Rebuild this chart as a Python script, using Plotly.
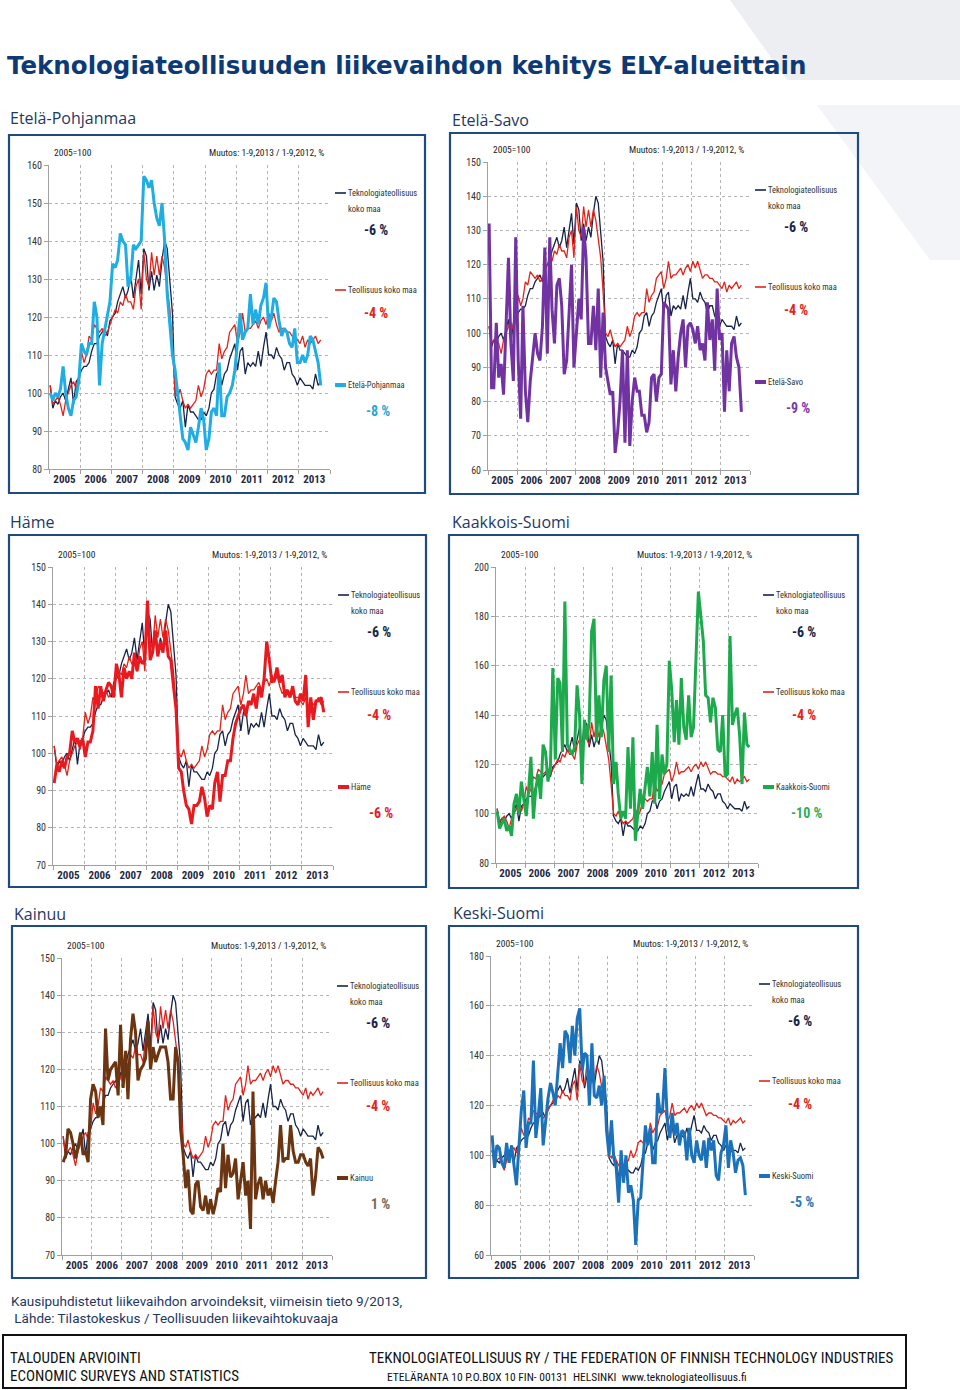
import plotly.graph_objects as go
import pandas as pd

W, H = 960, 1390

# ---------------- data (monthly, 1/2005 - 9/2013, 2005=100) ----------------
MONTHS = pd.date_range("2005-01-01", periods=105, freq="MS") + pd.Timedelta(days=14)
YEARS = [str(y) for y in range(2005, 2014)]

TEKNO = [102, 96, 98, 97, 99, 100, 98, 101, 104, 97, 103, 104,
         106, 107, 107, 108, 111, 113, 113, 115, 116, 117, 115, 119,
         120, 121, 124, 126, 128, 125, 127, 131, 125, 130, 135, 126,
         138, 136, 127, 132, 127, 131, 128, 135, 140, 138, 129, 121,
         99, 97, 96, 98, 91, 97, 95, 95, 94, 93, 93, 95,
         94, 96, 100, 101, 105, 106, 102, 105, 106, 109, 111, 113,
         106, 111, 112, 105, 108, 107, 108, 107, 111, 107, 112, 116,
         110, 110, 109, 112, 110, 109, 106, 108, 108, 105, 104, 102,
         104, 103, 102, 102, 102, 101, 105, 102, 103]

TEOLL = [102, 97, 98, 99, 97, 94, 98, 100, 102, 103, 101, 104,
         111, 108, 110, 115, 114, 118, 117, 116, 117, 115, 116, 118,
         120, 122, 121, 124, 123, 126, 124, 124, 122, 128, 130, 122,
         137, 130, 128, 137, 131, 136, 131, 136, 133, 127, 122, 112,
         100, 99, 101, 98, 96, 97, 96, 97, 98, 102, 99, 101,
         105, 106, 105, 106, 106, 113, 109, 111, 112, 116, 117, 118,
         113, 116, 121, 116, 117, 117, 118, 119, 117, 119, 120, 118,
         121, 119, 121, 118, 116, 117, 117, 116, 116, 115, 115, 114,
         113, 115, 112, 114, 113, 114, 115, 113, 114]

ETELA_POHJANMAA = [100, 98, 100, 99, 101, 107, 100, 96, 94, 98, 99, 103,
                   113, 111, 110, 113, 113, 124, 120, 102, 113, 117, 120, 124,
                   134, 133, 135, 142, 140, 139, 128, 130, 139, 138, 139, 140,
                   157, 156, 154, 156, 150, 146, 144, 150, 140, 126, 118, 110,
                   106, 100, 95, 88, 87, 85, 91, 89, 87, 91, 96, 93,
                   85, 88, 95, 96, 94, 108, 94, 94, 99, 100, 102, 106,
                   113, 121, 114, 116, 117, 126, 118, 122, 118, 123, 125, 129,
                   117, 120, 125, 124, 119, 115, 117, 116, 113, 112, 117, 108,
                   108, 110, 108, 110, 115, 114, 111, 108, 102]

ETELA_SAVO = [132, 84, 84, 103, 87, 91, 82, 100, 122, 97, 86, 128,
              92, 75, 108, 83, 74, 86, 92, 100, 94, 92, 102, 125,
              94, 128, 107, 97, 114, 116, 108, 88, 92, 104, 120, 90,
              100, 110, 104, 131, 122, 97, 97, 108, 95, 113, 87, 106,
              90, 86, 82, 83, 65, 71, 80, 95, 68, 95, 67, 80,
              87, 83, 83, 76, 76, 71, 74, 87, 88, 80, 87, 88,
              109, 108, 107, 85, 95, 83, 93, 100, 104, 90, 102, 103,
              101, 97, 102, 95, 97, 92, 109, 98, 104, 89, 113, 98,
              100, 77, 95, 83, 97, 99, 93, 90, 77]

HAME = [92, 97, 95, 98, 96, 99, 100, 106, 103, 104, 102, 104,
        99, 103, 103, 106, 118, 112, 118, 114, 117, 119, 118, 115,
        124, 121, 115, 123, 120, 122, 120, 127, 122, 126, 124, 125,
        141, 125, 127, 133, 126, 130, 127, 133, 126, 125, 118, 112,
        96, 95, 90, 86, 85, 81, 86, 86, 87, 91, 88, 83,
        86, 85, 92, 95, 87, 94, 94, 98, 98, 104, 108, 110,
        112, 113, 110, 114, 113, 116, 112, 118, 115, 120, 130, 125,
        119, 120, 123, 119, 121, 115, 117, 115, 118, 114, 113, 116,
        114, 121, 107, 115, 109, 114, 114, 115, 111]

KAAKKOIS_SUOMI = [101, 94, 96, 98, 93, 95, 91, 104, 108, 100, 113, 105,
                  99, 110, 123, 98, 110, 116, 106, 128, 125, 113, 119, 159,
                  122, 155, 153, 125, 186, 128, 126, 124, 127, 152, 140, 112,
                  138, 130, 137, 174, 179, 129, 148, 131, 154, 160, 125, 156,
                  112, 121, 108, 98, 101, 98, 127, 102, 131, 89, 100, 110,
                  102, 110, 119, 107, 125, 104, 136, 106, 124, 116, 120, 162,
                  150, 129, 146, 128, 155, 135, 130, 148, 131, 135, 160, 190,
                  180, 170, 148, 147, 137, 147, 143, 126, 125, 140, 115, 116,
                  172, 136, 140, 143, 132, 112, 141, 128, 127]

KAINUU = [95, 97, 104, 103, 100, 96, 99, 103, 97, 98, 95, 112,
          116, 114, 107, 110, 105, 131, 117, 120, 121, 122, 113, 132,
          115, 125, 112, 128, 135, 130, 117, 120, 121, 123, 133, 120,
          126, 122, 124, 126, 126, 126, 122, 112, 112, 126, 122, 104,
          97, 88, 93, 82, 81, 89, 90, 83, 82, 86, 81, 85,
          81, 84, 88, 87, 100, 88, 97, 91, 92, 96, 85, 90,
          95, 86, 90, 77, 114, 85, 89, 91, 85, 90, 86, 88,
          84, 90, 95, 105, 95, 96, 96, 105, 98, 95, 95, 97,
          97, 95, 94, 96, 86, 91, 99, 98, 96]

KESKI_SUOMI = [108, 95, 104, 103, 97, 95, 105, 97, 104, 95, 88, 103,
               118, 126, 103, 113, 113, 138, 107, 116, 127, 104, 115, 123,
               129, 125, 120, 135, 145, 135, 150, 148, 137, 152, 140, 155,
               159, 134, 141, 140, 120, 145, 124, 123, 128, 120, 132, 110,
               100, 114, 99, 95, 81, 102, 89, 100, 85, 88, 82, 64,
               82, 83, 96, 112, 104, 111, 97, 97, 125, 117, 118, 135,
               113, 107, 117, 108, 113, 104, 110, 109, 98, 111, 100, 97,
               106, 100, 98, 106, 95, 107, 102, 106, 92, 90, 101, 104,
               112, 95, 106, 101, 93, 98, 99, 96, 84]

REGIONS = ["Etelä-Pohjanmaa", "Etelä-Savo", "Häme", "Kaakkois-Suomi", "Kainuu", "Keski-Suomi"]
REGION_DATA = [ETELA_POHJANMAA, ETELA_SAVO, HAME, KAAKKOIS_SUOMI, KAINUU, KESKI_SUOMI]
REGION_CHANGE = ["-8 %", "-9 %", "-6 %", "-10 %", "1 %", "-5 %"]
TEKNO_CHANGE = "-6 %"
TEOLL_CHANGE = "-4 %"
SERIES_NAMES = ["Teknologiateollisuus", "koko maa", "Teollisuus koko maa"]

# ---------------- styles / layout ----------------
NAVY = "#17244A"
RED = "#E2231A"
REGION_COLORS = ["#1FADE4", "#7132A2", "#E8191F", "#1DAA4D", "#6B3512", "#1C72BA"]
PCT_COLORS = ["#2AA7D8", "#7A3BA6", "#E8191F", "#2BAE58", "#7A6A5C", "#2A78BC"]
FRAME = "#1E4C7E"
NARROW = "Liberation Sans Narrow, Arial Narrow, Roboto Condensed, DejaVu Sans Condensed, sans-serif"
TXT = "#1F3864"

# frame (x0,y0,x1,y1), plot area (left, top, right, bottom), title pos, y-range, dtick
PANELS = [
    dict(frame=(9, 135, 425, 493), plot=(49, 165, 330, 469), title=(8, 118), yr=(80, 160), dt=10),
    dict(frame=(450, 133, 858, 494), plot=(488, 162, 750, 470), title=(450, 120), yr=(60, 150), dt=10),
    dict(frame=(9, 535, 426, 887), plot=(53, 567, 333, 865), title=(8, 522), yr=(70, 150), dt=10),
    dict(frame=(449, 535, 858, 888), plot=(496, 567, 758, 863), title=(450, 522), yr=(80, 200), dt=20),
    dict(frame=(12, 926, 426, 1278), plot=(62, 958, 332, 1255), title=(12, 914), yr=(70, 150), dt=10),
    dict(frame=(449, 926, 858, 1278), plot=(491, 956, 754, 1255), title=(451, 913), yr=(60, 180), dt=20),
]


def px(x):
    return x / W


def py(y):
    return 1 - y / H


fig = go.Figure()
annotations = []
shapes = []


def ann(x, y, text, size, color, xanchor="left", family=NARROW, weight="normal"):
    annotations.append(dict(x=px(x), y=py(y), xref="paper", yref="paper", text=text,
                            showarrow=False, xanchor=xanchor, yanchor="middle",
                            font=dict(family=family, size=size, color=color, weight=weight)))


def hline(x0, x1, y, color, width):
    shapes.append(dict(type="line", xref="paper", yref="paper", x0=px(x0), x1=px(x1),
                       y0=py(y), y1=py(y), line=dict(color=color, width=width)))


# background decoration
shapes.append(dict(type="path", xref="paper", yref="paper", layer="below",
                   path=f"M {px(730)},{py(0)} L {px(960)},{py(0)} L {px(960)},{py(80)} L {px(787)},{py(80)} Z",
                   fillcolor="#EDEEF2", line=dict(width=0)))
shapes.append(dict(type="path", xref="paper", yref="paper", layer="below",
                   path=f"M {px(817)},{py(105)} L {px(960)},{py(105)} L {px(960)},{py(260)} L {px(930)},{py(260)} Z",
                   fillcolor="#F3F4F7", line=dict(width=0)))

for k, (p, name, data, col) in enumerate(zip(PANELS, REGIONS, REGION_DATA, REGION_COLORS), start=1):
    l, t, r, b = p["plot"]
    xs = "x" if k == 1 else f"x{k}"
    ys = "y" if k == 1 else f"y{k}"
    fig.add_trace(go.Scatter(x=MONTHS, y=TEKNO, mode="lines", line=dict(color=NAVY, width=1.3),
                             xaxis=xs, yaxis=ys, showlegend=False, hoverinfo="skip"))
    fig.add_trace(go.Scatter(x=MONTHS, y=TEOLL, mode="lines", line=dict(color=RED, width=1.3),
                             xaxis=xs, yaxis=ys, showlegend=False, hoverinfo="skip"))
    fig.add_trace(go.Scatter(x=MONTHS, y=data, mode="lines", line=dict(color=col, width=3),
                             xaxis=xs, yaxis=ys, showlegend=False, hoverinfo="skip"))

    kx = "xaxis" if k == 1 else f"xaxis{k}"
    ky = "yaxis" if k == 1 else f"yaxis{k}"
    fig.update_layout(**{
        kx: dict(domain=[px(l), px(r)], anchor=ys, type="date",
                 range=["2005-01-01", "2014-01-01"], automargin=False,
                 tickmode="array", tickvals=[f"{y}-07-01" for y in YEARS], ticktext=YEARS,
                 ticks="", showgrid=False, zeroline=False,
                 showline=True, linecolor="#A0A0A0", linewidth=1,
                 tickfont=dict(family=NARROW, size=11, color="#1F2A44", weight="bold"),
                 minor=dict(tick0="2005-01-01", dtick="M12", showgrid=True, gridcolor="#B5B5B5",
                            griddash="dot", gridwidth=1, ticks="outside", ticklen=4,
                            tickcolor="#A0A0A0"),
                 fixedrange=True),
        ky: dict(domain=[py(b), py(t)], anchor=xs, range=list(p["yr"]), tick0=p["yr"][0],
                 dtick=p["dt"], showgrid=True, gridcolor="#B5B5B5", griddash="dot", gridwidth=1,
                 zeroline=False, showline=True, linecolor="#A0A0A0", linewidth=1, automargin=False,
                 ticks="outside", ticklen=4, tickcolor="#A0A0A0",
                 tickfont=dict(family=NARROW, size=10, color="#333333"), fixedrange=True),
    })

    # frame and title
    fx0, fy0, fx1, fy1 = p["frame"]
    shapes.append(dict(type="rect", xref="paper", yref="paper", x0=px(fx0), x1=px(fx1),
                       y0=py(fy0), y1=py(fy1), line=dict(color=FRAME, width=2.2)))
    ann(p["title"][0], p["title"][1], name, 16, TXT, family="Open Sans, Noto Sans, sans-serif")

    # header texts
    ann(l + 3, t - 13, "2005=100", 9.5, "#222222")
    ann(r - 4, t - 13, "Muutos: 1-9,2013 / 1-9,2012, %", 9.5, "#222222", xanchor="right")

    # legend
    lx = r + 5
    tx = r + 16
    cx = r + 46
    hline(lx, lx + 11, t + 28, NAVY, 1.6)
    ann(tx, t + 28, SERIES_NAMES[0], 8.5, "#333333")
    ann(tx, t + 44, SERIES_NAMES[1], 8.5, "#333333")
    ann(cx, t + 65, TEKNO_CHANGE, 14, NAVY, xanchor="center", weight="bold")
    hline(lx, lx + 11, t + 125, RED, 1.6)
    ann(tx, t + 125, SERIES_NAMES[2], 8.5, "#333333")
    ann(cx, t + 148, TEOLL_CHANGE, 14, RED, xanchor="center", weight="bold")
    hline(lx, lx + 11, t + 220, col, 4)
    ann(tx, t + 220, name, 8.5, "#333333")
    ann(cx + 2, t + 246, REGION_CHANGE[k - 1], 14, PCT_COLORS[k - 1], xanchor="center", weight="bold")

# main title
ann(5, 66, "Teknologiateollisuuden liikevaihdon kehitys ELY-alueittain", 24.5, "#0D3A75",
    family="DejaVu Sans, sans-serif", weight="bold")

# footer
ann(9, 1301, "Kausipuhdistetut liikevaihdon arvoindeksit, viimeisin tieto 9/2013,", 13.5, TXT,
    family="Roboto, sans-serif")
ann(9, 1318, " Lähde: Tilastokeskus / Teollisuuden liikevaihtokuvaaja", 13.5, TXT,
    family="Roboto, sans-serif")
shapes.append(dict(type="rect", xref="paper", yref="paper", x0=px(3), x1=px(906),
                   y0=py(1335), y1=py(1388), line=dict(color="#111111", width=2)))
ann(8, 1358, "TALOUDEN ARVIOINTI", 15, "#111111")
ann(8, 1376, "ECONOMIC SURVEYS AND STATISTICS", 15, "#111111")
ann(367, 1358, "TEKNOLOGIATEOLLISUUS RY / THE FEDERATION OF FINNISH TECHNOLOGY INDUSTRIES", 15, "#111111")
ann(385, 1377, "ETELÄRANTA 10 P.O.BOX 10 FIN- 00131  HELSINKI  www.teknologiateollisuus.fi", 11.5, "#111111")

fig.update_layout(width=W, height=H, margin=dict(l=0, r=0, t=0, b=0, pad=0), autosize=False,
                  paper_bgcolor="white", plot_bgcolor="white",
                  annotations=annotations, shapes=shapes, showlegend=False)

fig.write_html("out.html", config={"displayModeBar": False},
               post_script="document.body.style.margin='0';"
                           "document.body.style.overflow='hidden';"
                           "document.documentElement.style.overflow='hidden';")
